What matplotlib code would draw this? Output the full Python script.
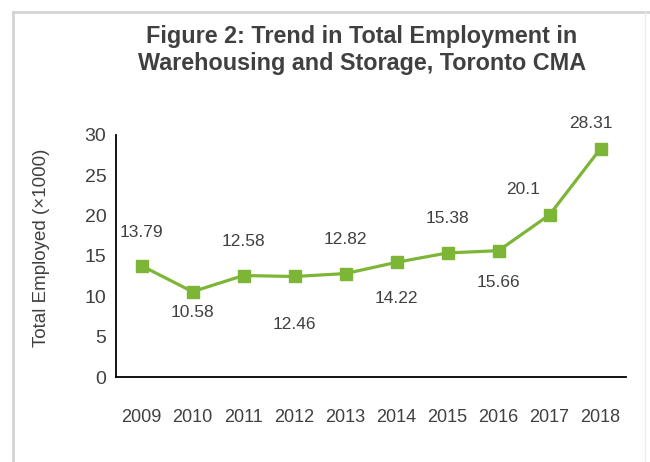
import matplotlib.pyplot as plt
from matplotlib.lines import Line2D

# data
years = ['2009', '2010', '2011', '2012', '2013', '2014', '2015', '2016', '2017', '2018']
employed = [13.79, 10.58, 12.58, 12.46, 12.82, 14.22, 15.38, 15.66, 20.1, 28.31]
# label offsets (px) relative to each point
label_dx = [0, 0, 0, 0, 0, 0, 0, 0, -26, -10]
label_dy = [33, -21, 34, -48, 34, -36, 34, -32, 25, 25]

green = '#7db536'
grey_text = '#404040'

plt.rcParams['font.family'] = ['Liberation Sans', 'DejaVu Sans']

fig = plt.figure(figsize=(6.5, 4.62), dpi=100)
ax = fig.add_axes([116 / 650, 1 - 377 / 462, 510 / 650, 242 / 462])

x = list(range(len(years)))
ax.plot(x, employed, color=green, lw=2.3, marker='s', markersize=8.5, zorder=3)

for i, v in enumerate(employed):
    ax.annotate(f"{v:g}", (i, v), xytext=(label_dx[i] * 0.72, label_dy[i] * 0.72),
                textcoords='offset points', ha='center', va='center',
                fontsize=12.5, color=grey_text)

ax.set_xlim(-0.5, len(years) - 0.5)
ax.set_ylim(0, 30)
ax.set_yticks(range(0, 31, 5))
ax.set_xticks(x)
ax.set_xticklabels(years)
ax.tick_params(length=0, colors=grey_text)
ax.tick_params(axis='x', pad=23, labelsize=13)
ax.tick_params(axis='y', pad=7, labelsize=14)
for s in ['top', 'right']:
    ax.spines[s].set_visible(False)
for s in ['left', 'bottom']:
    ax.spines[s].set_color('black')
    ax.spines[s].set_linewidth(1.3)

ax.set_ylabel('Total Employed (×1000)', fontsize=13.5, color=grey_text)
ax.yaxis.set_label_coords(-66 / 510, 0.535)

fig.text(362 / 650, 1 - 50 / 462,
         'Figure 2: Trend in Total Employment in\nWarehousing and Storage, Toronto CMA',
         ha='center', va='center', fontsize=16.8, fontweight='bold', color=grey_text,
         linespacing=1.25)

# panel frame
fig.add_artist(Line2D([13 / 650, 13 / 650], [0, 1 - 12 / 462], transform=fig.transFigure,
                      color='#d4d4d4', lw=2))
fig.add_artist(Line2D([13 / 650, 1], [1 - 12 / 462, 1 - 12 / 462], transform=fig.transFigure,
                      color='#d4d4d4', lw=2))
fig.add_artist(Line2D([645 / 650, 645 / 650], [0, 1 - 12 / 462], transform=fig.transFigure,
                      color='#ececec', lw=1))

fig.savefig('out.png', dpi=100)
